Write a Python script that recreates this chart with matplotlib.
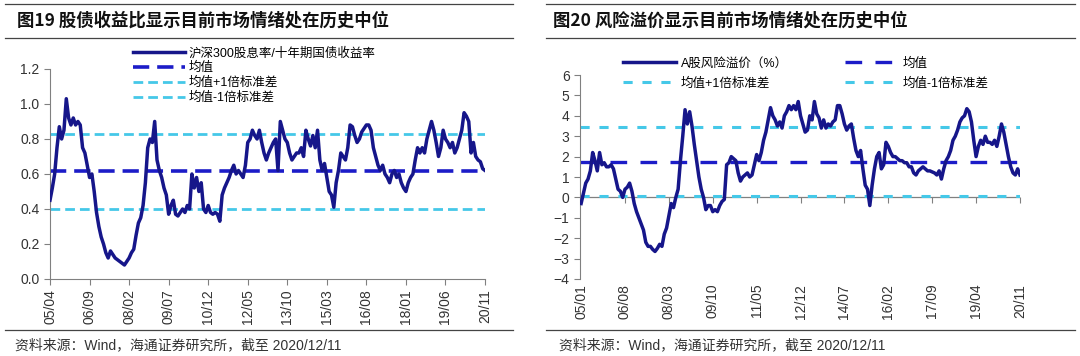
import matplotlib
matplotlib.use("Agg")
import matplotlib.pyplot as plt
from matplotlib.lines import Line2D

plt.rcParams['font.family'] = ['Liberation Sans', 'Noto Sans CJK SC', 'DejaVu Sans']

# ---- chart 19: dividend yield / 10y bond yield, monthly from 2005/04 ----
left_ticks = ["05/04", "06/09", "08/02", "09/07", "10/12", "12/05",
              "13/10", "15/03", "16/08", "18/01", "19/06", "20/11"]
left_vals = [0.45, 0.52, 0.60, 0.75, 0.87, 0.80, 0.85, 1.03, 0.92, 0.88,
             0.92, 0.88, 0.90, 0.88, 0.75, 0.72, 0.65, 0.58, 0.60, 0.50,
             0.38, 0.30, 0.24, 0.20, 0.15, 0.12, 0.16, 0.14, 0.12, 0.11,
             0.10, 0.09, 0.08, 0.10, 0.12, 0.15, 0.17, 0.25, 0.32, 0.35,
             0.42, 0.55, 0.75, 0.80, 0.78, 0.90, 0.68, 0.62, 0.58, 0.52,
             0.48, 0.37, 0.42, 0.45, 0.37, 0.36, 0.38, 0.40, 0.38, 0.42,
             0.40, 0.60, 0.52, 0.58, 0.50, 0.55, 0.40, 0.38, 0.42, 0.38,
             0.37, 0.38, 0.37, 0.33, 0.48, 0.52, 0.55, 0.58, 0.62, 0.65,
             0.60, 0.62, 0.60, 0.58, 0.65, 0.78, 0.80, 0.85, 0.82, 0.80,
             0.85, 0.78, 0.72, 0.68, 0.72, 0.75, 0.78, 0.80, 0.62, 0.90,
             0.85, 0.80, 0.78, 0.72, 0.68, 0.70, 0.72, 0.72, 0.75, 0.70,
             0.85, 0.80, 0.76, 0.82, 0.75, 0.85, 0.68, 0.62, 0.66, 0.58,
             0.50, 0.48, 0.41, 0.55, 0.62, 0.72, 0.70, 0.68, 0.75, 0.88,
             0.87, 0.82, 0.78, 0.80, 0.84, 0.86, 0.88, 0.88, 0.85, 0.75,
             0.70, 0.65, 0.62, 0.65, 0.60, 0.58, 0.55, 0.60, 0.62, 0.58,
             0.60, 0.55, 0.52, 0.50, 0.55, 0.58, 0.60, 0.68, 0.75, 0.72,
             0.75, 0.72, 0.80, 0.85, 0.90, 0.85, 0.78, 0.70, 0.75, 0.85,
             0.80, 0.78, 0.75, 0.78, 0.72, 0.75, 0.80, 0.85, 0.95, 0.93,
             0.90, 0.72, 0.78, 0.70, 0.68, 0.67, 0.63, 0.62]
left_mean = 0.615
left_up = 0.83
left_dn = 0.40

# ---- chart 20: A-share risk premium (%), monthly from 2005/01 ----
right_ticks = ["05/01", "06/08", "08/03", "09/10", "11/05", "12/12",
               "14/07", "16/02", "17/09", "19/04", "20/11"]
right_vals = [-0.3, 0.2, 0.7, 0.9, 1.3, 2.2, 1.8, 1.3, 2.2, 1.6,
              1.7, 1.5, 1.5, 1.6, 1.4, 0.9, 0.4, 0.3, 0.0, 0.4,
              0.5, 0.7, 0.3, -0.3, -0.7, -1.0, -1.3, -1.6, -2.2, -2.4,
              -2.4, -2.55, -2.65, -2.5, -2.3, -2.4, -1.8, -1.5, -0.9, -0.3,
              -0.5, 0.0, 0.4, 1.8, 3.0, 4.3, 3.6, 4.2, 3.5, 2.6,
              1.8, 1.0, 0.4, 0.0, -0.6, -0.4, -0.4, -0.7, -0.6, -0.7,
              -0.4, -0.2, -0.1, 1.6, 1.7, 2.0, 1.9, 1.8, 1.2, 0.8,
              1.0, 1.1, 1.2, 1.0, 1.1, 1.6, 2.1, 1.8, 2.2, 2.8,
              3.2, 3.8, 4.4, 4.0, 3.8, 3.5, 3.7, 3.4, 4.0, 4.2,
              4.5, 4.3, 4.5, 4.3, 4.7, 4.0, 3.6, 3.2, 3.3, 4.0,
              3.8, 4.7, 4.1, 3.9, 3.4, 3.8, 3.4, 3.6, 3.5, 3.7,
              3.8, 4.5, 4.5, 4.1, 3.6, 3.3, 3.5, 3.6, 2.9, 2.3,
              2.0, 2.3, 1.4, 0.6, 0.4, -0.4, 0.6, 1.4, 2.0, 2.2,
              1.4, 1.6, 2.7, 2.5, 2.2, 2.0, 2.0, 1.9, 1.8, 1.8,
              1.7, 1.7, 1.5, 1.5, 1.2, 1.1, 1.3, 1.4, 1.5, 1.4,
              1.3, 1.3, 1.25, 1.2, 1.1, 1.3, 0.9, 1.4, 1.8, 2.0,
              2.3, 2.8, 3.0, 3.3, 3.7, 3.9, 4.0, 4.35, 4.2, 3.7,
              2.8, 2.0, 2.5, 2.8, 2.6, 3.0, 2.7, 2.7, 2.6, 2.8,
              2.5, 3.0, 3.6, 3.2, 2.6, 2.0, 1.5, 1.2, 1.1, 1.4, 1.1]
right_mean = 1.75
right_up = 3.45
right_dn = 0.05

NAVY = '#16168a'
BLUE = '#1c1cc8'
CYAN = '#45c8e8'
GRAY = '#808080'
TXT = '#333333'

fig = plt.figure(figsize=(10.8, 3.56), dpi=100)


def hline(x0, x1, y):
    fig.add_artist(Line2D([x0, x1], [y, y], transform=fig.transFigure,
                          color='#444444', lw=0.9))


def style_axes(ax):
    for s in ['top', 'right']:
        ax.spines[s].set_visible(False)
    ax.spines['left'].set_color(GRAY)
    ax.spines['bottom'].set_color(GRAY)
    ax.tick_params(axis='both', colors=GRAY, labelcolor=TXT, labelsize=10,
                   length=4, direction='out')


# ---------------- left panel ----------------
ax1 = fig.add_axes([0.0463, 0.2163, 0.4028, 0.590])
xl = list(range(len(left_vals)))
ax1.axhline(left_up, color=CYAN, lw=2.0, dashes=(3.5, 1.8),
            label='均值+1倍标准差', zorder=2)
ax1.axhline(left_dn, color=CYAN, lw=2.0, dashes=(3.5, 1.8),
            label='均值-1倍标准差', zorder=2)
ax1.axhline(left_mean, color=BLUE, lw=2.6, dashes=(4.5, 2.2),
            label='均值', zorder=2)
ax1.plot(xl, left_vals, color=NAVY, lw=2.5, label='沪深300股息率/十年期国债收益率',
         zorder=3)
ax1.set_xlim(0, len(left_vals) - 1)
ax1.set_ylim(0, 1.2)
ax1.set_yticks([0, 0.2, 0.4, 0.6, 0.8, 1.0, 1.2])
ax1.set_yticklabels(['0.0', '0.2', '0.4', '0.6', '0.8', '1.0', '1.2'])
ax1.set_xticks([i * 17 for i in range(len(left_ticks))])
ax1.set_xticklabels(left_ticks, rotation=90)
style_axes(ax1)
h, l = ax1.get_legend_handles_labels()
order = [3, 2, 0, 1]
ax1.legend([h[i] for i in order], [l[i] for i in order], loc='upper left',
           bbox_to_anchor=(0.19, 1.105), frameon=False, fontsize=9,
           handlelength=4.2, labelspacing=0.22, borderaxespad=0,
           borderpad=0, handletextpad=0.3)

# ---------------- right panel ----------------
ax2 = fig.add_axes([0.537, 0.2163, 0.4074, 0.573])
xr = list(range(len(right_vals)))
ax2.axhline(0, color=GRAY, lw=0.9, zorder=1)
ax2.axhline(right_up, color=CYAN, lw=2.2, dashes=(3, 3.2),
            label='均值+1倍标准差', zorder=2)
ax2.axhline(right_dn, color=CYAN, lw=2.2, dashes=(3, 3.2),
            label='均值-1倍标准差', zorder=2)
ax2.axhline(right_mean, color=BLUE, lw=2.4, dashes=(5, 4),
            label='均值', zorder=2)
ax2.plot(xr, right_vals, color=NAVY, lw=2.5, label='A股风险溢价（%）', zorder=3)
ax2.set_xlim(-0.5, len(right_vals) - 1)
ax2.set_ylim(-4, 6)
ax2.set_yticks(range(-4, 7))
rt = [i * 19 for i in range(len(right_ticks))]
ax2.set_xticks(rt)
ax2.set_xticklabels(right_ticks, rotation=90)
style_axes(ax2)
ax2.spines['bottom'].set_visible(False)
ax2.tick_params(axis='x', length=0)
sec = ax2.secondary_xaxis(0.4)
sec.set_xticks(rt)
sec.set_xticklabels([])
sec.spines['bottom'].set_visible(False)
sec.tick_params(axis='x', colors=GRAY, length=4, direction='out')
h, l = ax2.get_legend_handles_labels()
# column-wise fill: main, +1sd | mean, -1sd
order = [3, 0, 2, 1]
ax2.legend([h[i] for i in order], [l[i] for i in order], loc='upper left',
           bbox_to_anchor=(0.098, 1.085), frameon=False, fontsize=9, ncol=2,
           handlelength=4.2, labelspacing=0.6, borderaxespad=0,
           borderpad=0, handletextpad=0.4, columnspacing=4.6)

# ---------------- titles, rules, sources ----------------
hline(0.005, 0.475, 0.99)
hline(0.005, 0.475, 0.893)
hline(0.005, 0.475, 0.073)
hline(0.506, 0.995, 0.99)
hline(0.506, 0.995, 0.893)
hline(0.506, 0.995, 0.073)

fig.text(0.016, 0.942, '图19 股债收益比显示目前市场情绪处在历史中位',
         fontsize=12.5, fontweight='bold', va='center', ha='left',
         family=['Noto Sans CJK SC', 'DejaVu Sans'], color='#111111')
fig.text(0.512, 0.942, '图20 风险溢价显示目前市场情绪处在历史中位',
         fontsize=12.5, fontweight='bold', va='center', ha='left',
         family=['Noto Sans CJK SC', 'DejaVu Sans'], color='#111111')
fig.text(0.014, 0.03, '资料来源：Wind，海通证券研究所，截至 2020/12/11',
         fontsize=10, va='center', ha='left', color=TXT)
fig.text(0.518, 0.03, '资料来源：Wind，海通证券研究所，截至 2020/12/11',
         fontsize=10, va='center', ha='left', color=TXT)

fig.savefig('out.png', dpi=100)
